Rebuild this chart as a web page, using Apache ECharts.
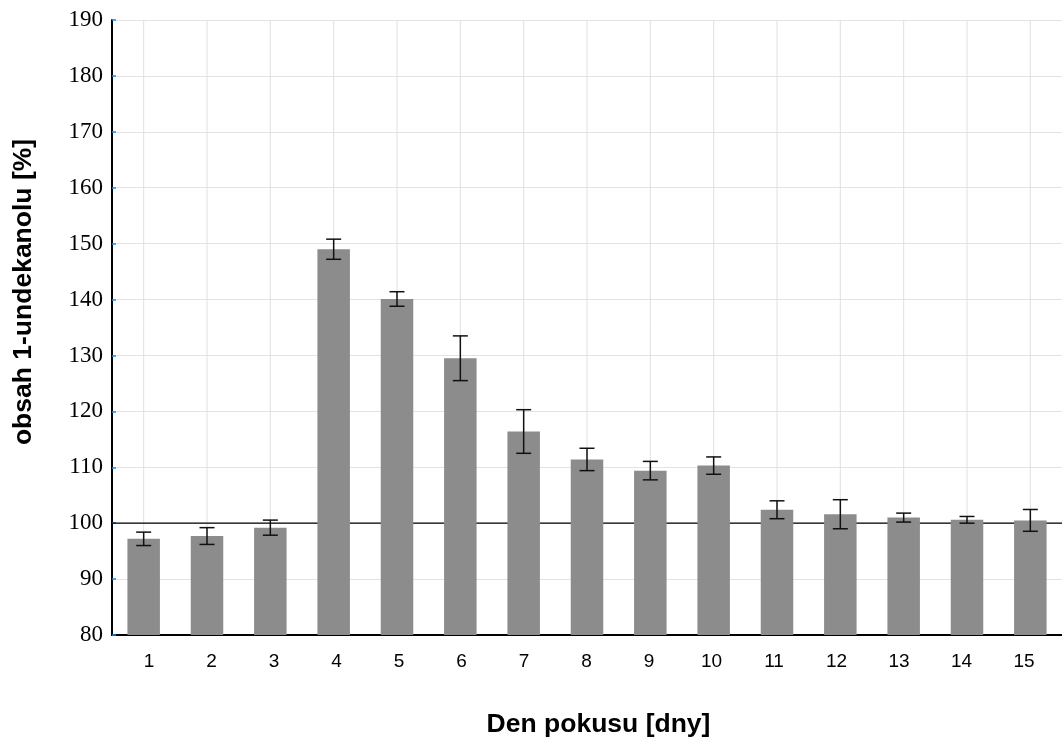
<!DOCTYPE html>
<html>
<head>
<meta charset="utf-8">
<script src="https://cdn.jsdelivr.net/npm/echarts@6/dist/echarts.min.js"></script>
<style>html,body{margin:0;padding:0;background:#fff;}#c{width:1062px;height:744px;}</style>
</head>
<body>
<div id="c"></div>
<script>
const days = ['1','2','3','4','5','6','7','8','9','10','11','12','13','14','15'];
const means = [97.2, 97.7, 99.2, 149.0, 140.1, 129.5, 116.4, 111.4, 109.4, 110.3, 102.4, 101.6, 101.0, 100.6, 100.5];
const errs = [1.2, 1.5, 1.35, 1.8, 1.3, 4.0, 3.9, 2.0, 1.65, 1.55, 1.6, 2.6, 0.8, 0.6, 1.95];
const yTicks = {min: 80, max: 190, step: 10};
const refLine = 100;
const xTitle = 'Den pokusu [dny]';
const yTitle = 'obsah 1-undekanolu [%]';

const errData = days.map((d, i) => [i, means[i] - errs[i], means[i] + errs[i]]);
const gridIdx = days.map((d, i) => [i]);

const chart = echarts.init(document.getElementById('c'), null, {renderer: 'canvas'});
chart.setOption({
  animation: false,
  backgroundColor: '#fff',
  grid: [
    {left: 112, top: 20, width: 959, height: 615, containLabel: false},
    {left: 117.75, top: 20, width: 937.5, height: 615, containLabel: false}
  ],
  xAxis: [
    {
      type: 'category', gridIndex: 0,
      data: days,
      boundaryGap: true,
      axisLine: {show: true, lineStyle: {color: '#000', width: 2}},
      axisTick: {show: false},
      axisLabel: {show: false},
      splitLine: {show: false}
    },
    {
      type: 'category', gridIndex: 1,
      data: days,
      boundaryGap: true,
      axisLine: {show: false},
      axisTick: {show: false},
      axisLabel: {color: '#000', fontFamily: 'Liberation Sans', fontSize: 19, margin: 17},
      splitLine: {show: false}
    }
  ],
  yAxis: [
    {
      type: 'value', gridIndex: 0,
      min: yTicks.min, max: yTicks.max, interval: yTicks.step,
      axisLine: {show: true, lineStyle: {color: '#000', width: 2}},
      axisTick: {show: true, inside: true, length: 4, lineStyle: {color: '#1e88e5', width: 1.5}},
      axisLabel: {color: '#000', fontFamily: 'Liberation Serif', fontSize: 23, margin: 9},
      splitLine: {show: true, lineStyle: {color: '#e3e3e3', width: 1}}
    },
    {
      type: 'value', gridIndex: 1, show: false,
      min: yTicks.min, max: yTicks.max, interval: yTicks.step,
      splitLine: {show: false}
    }
  ],
  graphic: [
    {type: 'text', x: 598.5, y: 725, style: {text: xTitle, fill: '#000', font: 'bold 26.5px "Liberation Sans"', align: 'center', verticalAlign: 'middle'}},
    {type: 'text', x: 24, y: 292, rotation: Math.PI / 2, style: {text: yTitle, fill: '#000', font: 'bold 26.5px "Liberation Sans"', align: 'center', verticalAlign: 'middle'}}
  ],
  series: [
    {
      type: 'custom', z: 0, silent: true, data: gridIdx,
      renderItem: function (params, api) {
        const i = api.value(0);
        const a = api.coord([i, yTicks.min]);
        const b = api.coord([i, yTicks.max]);
        return {type: 'line', shape: {x1: a[0], y1: a[1], x2: b[0], y2: b[1]}, style: {stroke: '#e0e0e0', lineWidth: 1}};
      }
    },
    {
      type: 'custom', z: 1, silent: true, data: [[0, refLine]],
      renderItem: function (params, api) {
        const p = api.coord([0, api.value(1)]);
        const cs = params.coordSys;
        return {type: 'line', shape: {x1: cs.x, y1: p[1], x2: cs.x + cs.width, y2: p[1]}, style: {stroke: '#000', lineWidth: 1.2}};
      }
    },
    {
      type: 'bar', data: means, z: 2, barWidth: 32.5,
      itemStyle: {color: '#8c8c8c'}
    },
    {
      type: 'custom', z: 3, data: errData,
      renderItem: function (params, api) {
        const x = api.value(0);
        const lo = api.coord([x, api.value(1)]);
        const hi = api.coord([x, api.value(2)]);
        const hw = 7.5;
        const st = {stroke: '#111', lineWidth: 1.5};
        return {type: 'group', children: [
          {type: 'line', shape: {x1: lo[0], y1: lo[1], x2: hi[0], y2: hi[1]}, style: st},
          {type: 'line', shape: {x1: lo[0] - hw, y1: lo[1], x2: lo[0] + hw, y2: lo[1]}, style: st},
          {type: 'line', shape: {x1: hi[0] - hw, y1: hi[1], x2: hi[0] + hw, y2: hi[1]}, style: st}
        ]};
      }
    }
  ]
});
</script>
</body>
</html>
